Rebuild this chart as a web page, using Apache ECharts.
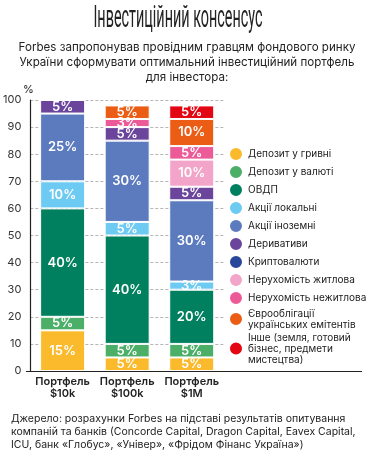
<!DOCTYPE html>
<html>
<head>
<meta charset="utf-8">
<script src="https://cdn.jsdelivr.net/npm/echarts@6/dist/echarts.min.js"></script>
<style>
html,body{margin:0;padding:0;background:#fff;}
#chart{width:374px;height:462px;}
</style>
</head>
<body>
<div id="chart"></div>
<script>
var categories = ['Портфель\n$10k', 'Портфель\n$100k', 'Портфель\n$1M'];
var yTicks = [0, 10, 20, 30, 40, 50, 60, 70, 80, 90, 100];
var yUnit = '%';

var depositUah = [15, 5, 5];
var depositFx = [5, 5, 5];
var ovdp = [40, 40, 20];
var sharesLocal = [10, 5, 3];
var sharesForeign = [25, 30, 30];
var derivatives = [5, 5, 5];
var crypto = [0, 2, 2];
var realtyResidential = [0, 0, 10];
var realtyCommercial = [0, 3, 5];
var eurobonds = [0, 5, 10];
var other = [0, 0, 5];

var seriesNames = [
  'Депозит у гривні', 'Депозит у валюті', 'ОВДП', 'Акції локальні', 'Акції іноземні',
  'Деривативи', 'Криптовалюти', 'Нерухомість житлова', 'Нерухомість нежитлова',
  'Єврооблігації українських емітентів', 'Інше (земля, готовий бізнес, предмети мистецтва)'
];
var legendLabels = [
  'Депозит у гривні', 'Депозит у валюті', 'ОВДП', 'Акції локальні', 'Акції іноземні',
  'Деривативи', 'Криптовалюти', 'Нерухомість житлова', 'Нерухомість нежитлова',
  'Єврооблігації\nукраїнських емітентів', 'Інше (земля, готовий\nбізнес, предмети\nмистецтва)'
];
var seriesValues = [depositUah, depositFx, ovdp, sharesLocal, sharesForeign, derivatives,
  crypto, realtyResidential, realtyCommercial, eurobonds, other];
var colors = ['#FBBA2C', '#4CAF67', '#00805E', '#6DCAF2', '#5B7BBE', '#6A459B',
  '#26479A', '#F3A5C9', '#EC5B98', '#EB5D14', '#E30613'];

var title = 'Інвестиційний консенсус';
var subtitle = 'Forbes запропонував провідним гравцям фондового ринку\nУкраїни сформувати оптимальний інвестиційний портфель\nдля інвестора:';
var source = 'Джерело: розрахунки Forbes на підставі результатів опитування\nкомпаній та банків (Concorde Capital, Dragon Capital, Eavex Capital,\nICU, банк «Глобус», «Універ», «Фрідом Фінанс Україна»)';

var FONT = 'Inter';

var chart = echarts.init(document.getElementById('chart'), null, {renderer: 'canvas'});

var series = seriesNames.map(function (name, i) {
  return {
    name: name,
    type: 'bar',
    stack: 'total',
    barWidth: 45,
    data: seriesValues[i],
    itemStyle: {color: colors[i], borderColor: '#ffffff', borderWidth: 1},
    label: {
      show: true,
      position: 'inside',
      color: '#ffffff',
      fontFamily: FONT,
      fontSize: 13,
      fontWeight: 600,
      formatter: function (p) { return p.value ? p.value + '%' : ''; }
    }
  };
});

var option = {
  animation: false,
  color: colors,
  title: [
    {
      text: subtitle,
      left: 187,
      top: 40,
      padding: 0,
      textAlign: 'center',
      textStyle: {fontFamily: FONT, fontSize: 11.6, fontWeight: 'normal', lineHeight: 15, color: '#222'}
    },
    {
      text: source,
      left: 11,
      top: 412,
      padding: 0,
      textStyle: {fontFamily: FONT, fontSize: 10.5, fontWeight: 'normal', lineHeight: 13, color: '#222'}
    }
  ],
  graphic: [
    {
      type: 'text',
      x: 178, y: 19,
      scaleX: 0.6,
      scaleY: 1.3,
      style: {
        text: title,
        x: 0, y: 0,
        textAlign: 'center',
        textVerticalAlign: 'middle',
        font: '24px Roboto',
        fill: '#222'
      }
    },
    {
      type: 'text',
      x: 23, y: 84,
      style: {text: yUnit, font: '11px Inter', fill: '#222'}
    },
    {
      type: 'line',
      shape: {x1: 26, y1: 371.5, x2: 362, y2: 371.5},
      style: {stroke: '#222', lineWidth: 1.2}
    }
  ],
  legend: {
    orient: 'vertical',
    left: 228,
    top: 146,
    padding: 0,
    itemWidth: 14,
    itemHeight: 14,
    itemGap: 2,
    icon: 'circle',
    data: seriesNames,
    formatter: function (name) { return legendLabels[seriesNames.indexOf(name)]; },
    textStyle: {fontFamily: FONT, fontSize: 10, lineHeight: 11, color: '#222'}
  },
  grid: {left: 26, right: 150, top: 100, bottom: 91, containLabel: false},
  xAxis: {
    type: 'category',
    data: categories,
    axisLine: {show: true, lineStyle: {color: '#222', width: 1.2}},
    axisTick: {show: false},
    axisLabel: {interval: 0, fontFamily: FONT, fontSize: 11, fontWeight: 600, lineHeight: 12, color: '#222', margin: 5}
  },
  yAxis: {
    type: 'value',
    min: yTicks[0],
    max: yTicks[yTicks.length - 1],
    interval: 10,
    axisLine: {show: true, lineStyle: {color: '#222', width: 1.2}},
    axisTick: {show: false},
    axisLabel: {fontFamily: FONT, fontSize: 11, color: '#333', margin: 9},
    splitLine: {show: true, lineStyle: {color: '#b5b5b5', type: [3, 2], width: 1}}
  },
  series: series
};
chart.setOption(option);
</script>
</body>
</html>
